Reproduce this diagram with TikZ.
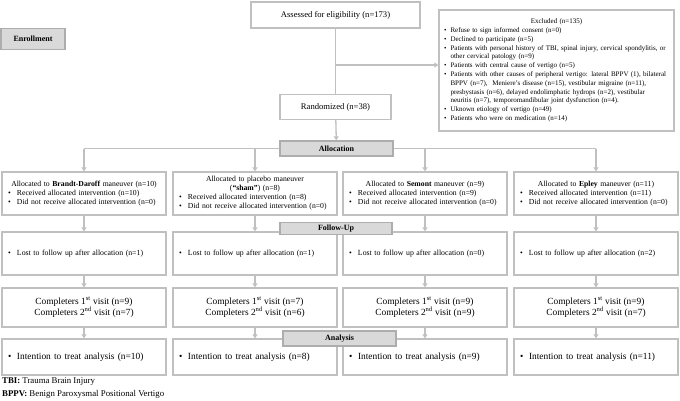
\documentclass[tikz,border=0pt]{standalone}
\usepackage{fontspec}
\setmainfont{Liberation Serif}
\usetikzlibrary{arrows.meta}

\definecolor{linegray}{RGB}{192,192,192}
\definecolor{bannergray}{RGB}{217,217,217}

\pgfdeclarelayer{bg}
\pgfsetlayers{bg,main}

\newcommand{\bitem}[1]{\makebox[\linewidth][l]{\hspace*{2pt}\makebox[9pt][l]{\textbullet}#1}}
\newcommand{\xitem}[1]{\makebox[\linewidth][l]{\hspace*{1.5pt}\makebox[6.5pt][l]{\textbullet}#1}}
\newcommand{\xcont}[1]{\makebox[\linewidth][l]{\hspace*{8pt}#1}}

\tikzset{
	box/.style={draw=linegray, line width=1.3pt, fill=white, inner sep=0pt, minimum width=164pt},
	banner/.style={draw=linegray!90!black, line width=1.3pt, fill=bannergray, inner sep=0pt, font=\fontsize{8}{9}\selectfont\bfseries},
	conn/.style={draw=linegray, line width=1.3pt},
	arr/.style={conn, -{Triangle[length=4pt,width=5pt]}}
}

\begin{document}
\begin{tikzpicture}[x=1pt,y=-1pt]
	\useasboundingbox (0,0) rectangle (680,400);
	
	\node[banner, minimum width=64pt, minimum height=21pt] (enroll) at (33,39) {Enrollment};
	
	\node[box, minimum width=169pt, minimum height=26pt, font=\fontsize{8.6}{10}\selectfont] (assessed) at (335.5,15) {Assessed for eligibility (n=173)};
	
	\node[box, minimum width=111pt, minimum height=25pt, font=\fontsize{8.6}{10}\selectfont] (random) at (335.5,107) {Randomized (n=38)};
	
	\node[box, minimum width=235pt, minimum height=121pt, text width=228pt, align=center, font=\fontsize{7}{8.8}\selectfont] (excluded) at (556.5,70.5) {Excluded (n=135)\\
		\xitem{Refuse to sign informed consent (n=0)}\\
		\xitem{Declined to participate (n=5)}\\
		\xitem{Patients with personal history of TBI, spinal injury, cervical spondylitis, or}\\
		\xcont{other cervical patology (n=9)}\\
		\xitem{Patients with central cause of vertigo (n=5)}\\
		\xitem{Patients with other causes of peripheral vertigo: lateral BPPV (1), bilateral}\\
		\xcont{BPPV (n=7),\ \ Meniere’s disease (n=15), vestibular migraine (n=11),}\\
		\xcont{presbystasis (n=6), delayed endolimphatic hydrops (n=2), vestibular}\\
		\xcont{neuritis (n=7), temporomandibular joint dysfunction (n=4).}\\
		\xitem{Uknown etiology of vertigo (n=49)}\\
		\xitem{Patients who were on medication (n=14)}};
	
	\coordinate (split) at (335.5,65);
	
	% four arms
	\node[box, minimum height=43pt, text width=156pt, align=center, font=\fontsize{7.7}{9}\selectfont] (alloc1) at (84,193.5) {Allocated to \textbf{Brandt-Daroff} maneuver (n=10)\\
		\bitem{Received allocated intervention (n=10)}\\
		\bitem{Did not receive allocated intervention (n=0)}};
	
	\node[box, minimum height=43pt, text width=156pt, align=center, font=\fontsize{7.7}{9}\selectfont] (alloc2) at (255,193.5) {Allocated to placebo maneuver\\
		(\textbf{“sham”}) (n=8)\\
		\bitem{Received allocated intervention (n=8)}\\
		\bitem{Did not receive allocated intervention (n=0)}};
	
	\node[box, minimum height=43pt, text width=156pt, align=center, font=\fontsize{7.7}{9}\selectfont] (alloc3) at (425,193.5) {Allocated to \textbf{Semont} maneuver (n=9)\\
		\bitem{Received allocated intervention (n=9)}\\
		\bitem{Did not receive allocated intervention (n=0)}};
	
	\node[box, minimum height=43pt, text width=156pt, align=center, font=\fontsize{7.7}{9}\selectfont] (alloc4) at (596,193.5) {Allocated to \textbf{Epley} maneuver (n=11)\\
		\bitem{Received allocated intervention (n=11)}\\
		\bitem{Did not receive allocated intervention (n=0)}};
	
	\node[box, minimum height=43pt, text width=156pt, align=left, font=\fontsize{7.8}{9}\selectfont] (lost1) at (84,253.5) {\bitem{Lost to follow up after allocation (n=1)}};
	
	\node[box, minimum height=43pt, text width=156pt, align=left, font=\fontsize{7.8}{9}\selectfont] (lost2) at (255,253.5) {\bitem{Lost to follow up after allocation (n=1)}};
	
	\node[box, minimum height=43pt, text width=156pt, align=left, font=\fontsize{7.8}{9}\selectfont] (lost3) at (425,253.5) {\bitem{Lost to follow up after allocation (n=0)}};
	
	\node[box, minimum height=43pt, text width=156pt, align=left, font=\fontsize{7.8}{9}\selectfont] (lost4) at (596,253.5) {\bitem{Lost to follow up after allocation (n=2)}};
	
	\node[box, minimum height=39pt, align=center, font=\fontsize{9.4}{11}\selectfont] (compl1) at (84,307.5) {Completers 1\textsuperscript{st} visit (n=9)\\Completers 2\textsuperscript{nd} visit (n=7)};
	
	\node[box, minimum height=39pt, align=center, font=\fontsize{9.4}{11}\selectfont] (compl2) at (255,307.5) {Completers 1\textsuperscript{st} visit (n=7)\\Completers 2\textsuperscript{nd} visit (n=6)};
	
	\node[box, minimum height=39pt, align=center, font=\fontsize{9.4}{11}\selectfont] (compl3) at (425,307.5) {Completers 1\textsuperscript{st} visit (n=9)\\Completers 2\textsuperscript{nd} visit (n=9)};
	
	\node[box, minimum height=39pt, align=center, font=\fontsize{9.4}{11}\selectfont] (compl4) at (596,307.5) {Completers 1\textsuperscript{st} visit (n=9)\\Completers 2\textsuperscript{nd} visit (n=7)};
	
	\node[box, minimum height=36pt, text width=156pt, align=left, font=\fontsize{9.4}{11}\selectfont] (itt1) at (84,357) {\bitem{Intention to treat analysis (n=10)}};
	
	\node[box, minimum height=36pt, text width=156pt, align=left, font=\fontsize{9.4}{11}\selectfont] (itt2) at (255,357) {\bitem{Intention to treat analysis (n=8)}};
	
	\node[box, minimum height=36pt, text width=156pt, align=left, font=\fontsize{9.4}{11}\selectfont] (itt3) at (425,357) {\bitem{Intention to treat analysis (n=9)}};
	
	\node[box, minimum height=36pt, text width=156pt, align=left, font=\fontsize{9.4}{11}\selectfont] (itt4) at (596,357) {\bitem{Intention to treat analysis (n=11)}};
	
	% stage banners
	\node[banner, minimum width=113pt, minimum height=15pt] (allocation) at (336.5,148.5) {Allocation};
	
	\node[banner, minimum width=112pt, minimum height=12pt] (followup) at (336,228.5) {Follow-Up};
	
	\node[banner, minimum width=113pt, minimum height=15pt] (analysis) at (339.5,338.5) {Analysis};
	
	\node[anchor=west, inner sep=0pt, font=\fontsize{8.8}{10}\selectfont] (note1) at (2,381.5) {\textbf{TBI:} Trauma Brain Injury};
	
	\node[anchor=west, inner sep=0pt, font=\fontsize{8.8}{10}\selectfont] (note2) at (2,394) {\textbf{BPPV:} Benign Paroxysmal Positional Vertigo};
	
	\begin{pgfonlayer}{bg}
		\draw[conn] (assessed) -- (random);
		
		\draw[arr] (split) -- (split -| excluded.west);
		
		\draw[arr] (random) -- (allocation);
		
		\draw[conn] (alloc1.north |- allocation) -- (alloc4.north |- allocation);
		
		\foreach \i in {1,2,3,4}{
			\draw[arr] (alloc\i.north |- allocation) -- (alloc\i);
			\draw[arr] (alloc\i) -- (lost\i);
			\draw[arr] (lost\i) -- (compl\i);
			\draw[arr] (compl\i) -- (itt\i);
		}
	\end{pgfonlayer}
	
\end{tikzpicture}
\end{document}
